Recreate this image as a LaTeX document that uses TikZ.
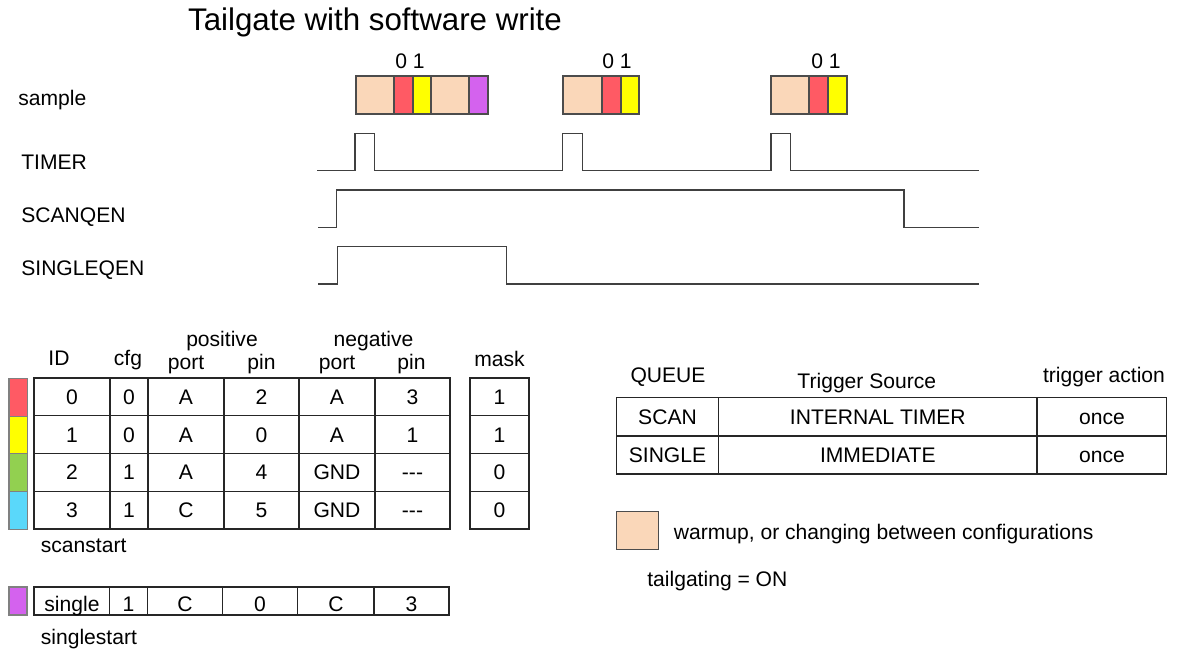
\documentclass[tikz,border=0pt]{standalone}
\usepackage{fontspec}
\setmainfont{Liberation Sans}[Ligatures=TeXOff]
\usepackage{tikz}
\definecolor{warm}{RGB}{250,215,185}
\definecolor{sred}{RGB}{255,90,100}
\definecolor{syel}{RGB}{255,255,0}
\definecolor{spur}{RGB}{212,98,238}
\definecolor{sgrn}{RGB}{146,208,80}
\definecolor{scyn}{RGB}{90,216,250}

\begin{document}
\begin{tikzpicture}[x=0.02cm,y=-0.02cm,
  lbl/.style={font=\fontsize{12}{14}\selectfont, inner sep=0pt, text height=8.6pt, text depth=0pt},
  wave/.style={black!75, line width=0.7pt},
  tbl/.style={black!85, line width=0.6pt},
  seg/.style={draw=black!70, line width=0.6pt}]
\useasboundingbox (0,0) rectangle (1177,652);
\node[font=\fontsize{17.8}{20}\selectfont, inner sep=0pt, text height=12.7pt, text depth=0pt] (title) at (375,19.7) {Tailgate with software write};
% signal names
\node[lbl, anchor=west] (sample) at (18,97.8) {sample};
\node[lbl, anchor=west] (timer) at (21,162.3) {TIMER};
\node[lbl, anchor=west] (scanqen) at (21,214.6) {SCANQEN};
\node[lbl, anchor=west] (singleqen) at (21,268) {SINGLEQEN};
% samples
\foreach \a/\b/\c in {356/394/warm, 394/413/sred, 413/431/syel, 431/469/warm, 469/488/spur,
  563/602/warm, 602/621/sred, 621/639/syel, 771/809/warm, 809/828/sred, 828/847/syel}
  \filldraw[seg, fill=\c] (\a,76) rectangle (\b,114);
\node[lbl] (zo1) at (410,60.7) {0 1};
\node[lbl] (zo2) at (617,60.7) {0 1};
\node[lbl] (zo3) at (826,60.7) {0 1};
% waveforms
\draw[wave] (317,170.7) -- (355,170.7) -- (355,133.3) -- (374.5,133.3) -- (374.5,170.7)
  -- (562.5,170.7) -- (562.5,133.3) -- (582.5,133.3) -- (582.5,170.7)
  -- (771,170.7) -- (771,133.3) -- (790.5,133.3) -- (790.5,170.7) -- (979,170.7);
\draw[wave] (318,227.3) -- (336.6,227.3) -- (336.6,190) -- (904,190) -- (904,227.3) -- (979,227.3);
\draw[wave] (318,284) -- (337.5,284) -- (337.5,246.7) -- (506.7,246.7) -- (506.7,284) -- (979,284);
% scan table
\node[lbl] (hid) at (59,358.3) {ID};
\node[lbl] (hcfg) at (128,357.8) {cfg};
\node[lbl] (hpos) at (222,339) {positive};
\node[lbl] (hpport) at (186,361.6) {port};
\node[lbl] (hppin) at (261.5,361.6) {pin};
\node[lbl] (hneg) at (373.6,339) {negative};
\node[lbl] (hnport) at (337,361.6) {port};
\node[lbl] (hnpin) at (411.5,361.6) {pin};
\node[lbl] (hmask) at (499.5,359) {mask};
\foreach \c [count=\i from 0] in {sred,syel,sgrn,scyn}
  \filldraw[draw=black!50, line width=0.6pt, fill=\c] (9,{378.5+\i*37.65}) rectangle (27.5,{416.15+\i*37.65});
\draw[tbl] (34,378) rectangle (450,529) (470,378) rectangle (529,529);
\foreach \x in {110,148,224,299,375} \draw[tbl] (\x,378) -- (\x,529);
\foreach \y in {415.7,453.5,491.2} \draw[tbl] (34,\y) -- (450,\y) (470,\y) -- (529,\y);
\foreach \a/\b/\c/\d/\e/\f/\g [count=\r from 0] in
  {0/0/A/2/A/3/1, 1/0/A/0/A/1/1, 2/1/A/4/GND/---/0, 3/1/C/5/GND/---/0} {
  \pgfmathsetmacro\yy{396.9+\r*37.7}
  \node[lbl] (id\r) at (72,\yy) {\a};
  \node[lbl] (cfg\r) at (129,\yy) {\b};
  \node[lbl] (pport\r) at (186,\yy) {\c};
  \node[lbl] (ppin\r) at (261.5,\yy) {\d};
  \node[lbl] (nport\r) at (337,\yy) {\e};
  \node[lbl] (npin\r) at (412.5,\yy) {\f};
  \node[lbl] (mask\r) at (499.5,\yy) {\g};
}
\node[lbl, anchor=west] (scanstart) at (40.5,544.6) {scanstart};
% single row
\filldraw[draw=black!50, line width=0.6pt, fill=spur] (9,587) rectangle (27,615);
\draw[tbl] (34,587) rectangle (449,615);
\foreach \x in {109.7,147.3,222.7,297.7,374} \draw[tbl] (\x,587) -- (\x,615);
\node[lbl] (sid) at (72,604) {single};
\node[lbl] (scfg) at (128.5,604) {1};
\node[lbl] (spport) at (185,604) {C};
\node[lbl] (sppin) at (260,604) {0};
\node[lbl] (snport) at (336,604) {C};
\node[lbl] (snpin) at (411.5,604) {3};
\node[lbl, anchor=west] (singlestart) at (40.5,637) {singlestart};
% queue table
\node[lbl] (hqueue) at (668,375) {QUEUE};
\node[lbl] (hsrc) at (866.8,380.7) {Trigger Source};
\node[lbl] (hact) at (1104,375) {trigger action};
\draw[tbl] (616.6,397.7) rectangle (1166.8,474);
\draw[tbl] (616.6,436) -- (1166.8,436) (718.5,397.7) -- (718.5,474) (1037,397.7) -- (1037,474);
\node[lbl] (qscan) at (667.5,416.5) {SCAN};
\node[lbl] (qscansrc) at (877.8,416.5) {INTERNAL TIMER};
\node[lbl] (qscanact) at (1102,416.5) {once};
\node[lbl] (qsingle) at (667.5,454.5) {SINGLE};
\node[lbl] (qsinglesrc) at (877.8,454.5) {IMMEDIATE};
\node[lbl] (qsingleact) at (1102,454.5) {once};
% legend
\filldraw[seg, fill=warm] (616.6,511.7) rectangle (658.9,549.3);
\node[lbl, anchor=west] (warmup) at (673.5,532) {warmup, or changing between configurations};
\node[lbl, anchor=west] (tailgating) at (647,579) {tailgating = ON};
\end{tikzpicture}
\end{document}
